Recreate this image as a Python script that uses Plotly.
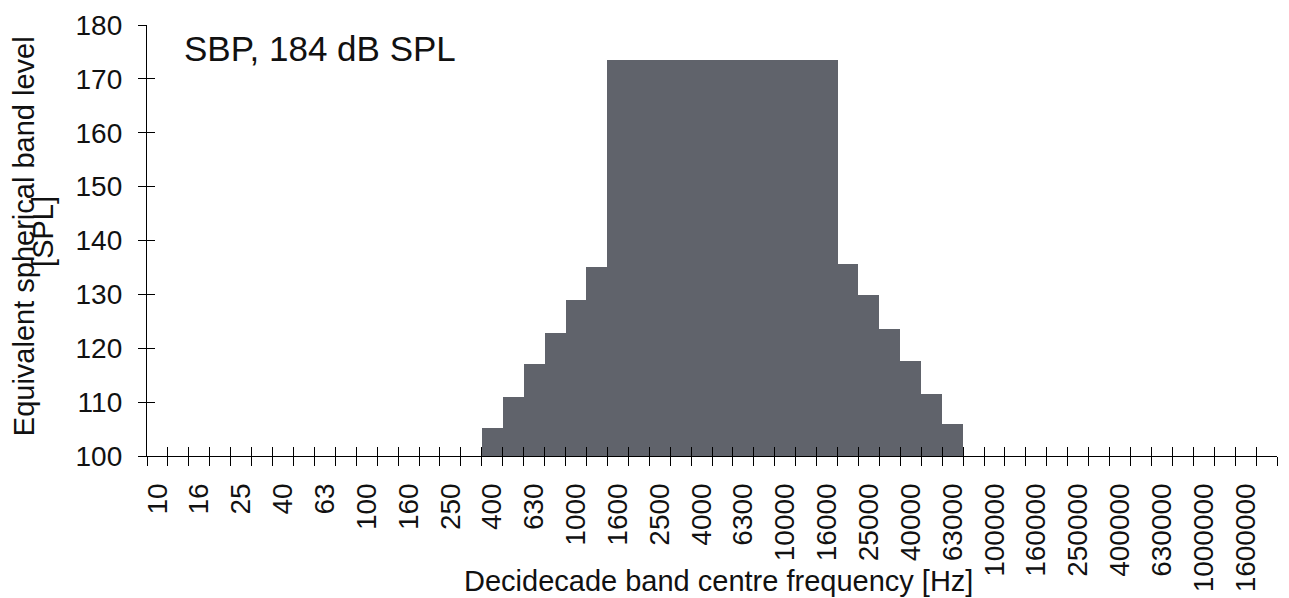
import plotly.graph_objects as go

# Decidecade band centre frequencies (Hz) - category axis
band_centres = ["10", "12.5", "16", "20", "25", "31.5", "40", "50", "63", "80",
                "100", "125", "160", "200", "250", "315", "400", "500", "630", "800",
                "1000", "1250", "1600", "2000", "2500", "3150", "4000", "5000", "6300", "8000",
                "10000", "12500", "16000", "20000", "25000", "31500", "40000", "50000", "63000", "80000",
                "100000", "125000", "160000", "200000", "250000", "315000", "400000", "500000", "630000", "800000",
                "1000000", "1250000", "1600000", "2000000"]

# Labelled ticks (every other band)
tick_labels = ["10", "16", "25", "40", "63", "100", "160", "250", "400", "630",
               "1000", "1600", "2500", "4000", "6300", "10000", "16000", "25000", "40000", "63000",
               "100000", "160000", "250000", "400000", "630000", "1000000", "1600000"]

# Bands with a level and their equivalent spherical band level (dB SPL)
spl_bands = ["400", "500", "630", "800", "1000", "1250",
             "1600", "2000", "2500", "3150", "4000", "5000", "6300", "8000", "10000", "12500", "16000",
             "20000", "25000", "31500", "40000", "50000", "63000"]
spl_levels = [105.2, 111.0, 117.0, 122.9, 128.9, 135.0,
              173.5, 173.5, 173.5, 173.5, 173.5, 173.5, 173.5, 173.5, 173.5, 173.5, 173.5,
              135.6, 129.9, 123.5, 117.7, 111.6, 105.9]

FONT = "Liberation Sans, Arial, sans-serif"
TXT = "#111111"
n_cat = len(band_centres)
xr = [-0.5, n_cat - 0.5]
yr = [100, 180]

fig = go.Figure()
fig.add_trace(go.Bar(x=spl_bands, y=spl_levels, width=1,
                     marker=dict(color="#60636b", line=dict(width=0)),
                     showlegend=False, hoverinfo="x+y"))
# empty helper traces so that the overlaid tick-only axes get drawn
fig.add_trace(go.Scatter(x=[], y=[], xaxis="x2", yaxis="y", showlegend=False, hoverinfo="skip"))
fig.add_trace(go.Scatter(x=[], y=[], xaxis="x3", yaxis="y", showlegend=False, hoverinfo="skip"))
fig.add_trace(go.Scatter(x=[], y=[], xaxis="x", yaxis="y2", showlegend=False, hoverinfo="skip"))

tick_common = dict(showgrid=False, zeroline=False, showticklabels=False, showline=False,
                   tickcolor="#000000", tickwidth=1.3, automargin=False, type="linear")

# page body has an 8px margin, so the figure is sized to fit inside the window
fig.update_layout(
    width=1281, height=590,
    margin=dict(l=139, r=12, t=17, b=142, autoexpand=False),
    paper_bgcolor="white", plot_bgcolor="white",
    bargap=0,
    font=dict(family=FONT, color=TXT, size=28),
    xaxis=dict(type="category", categoryorder="array", categoryarray=band_centres,
               range=xr, tickmode="array", tickvals=tick_labels, ticktext=tick_labels,
               tickangle=-90, ticks="", showline=True, linecolor="#000000", linewidth=1.3,
               showgrid=False, zeroline=False, ticklabelstandoff=15, automargin=False,
               tickfont=dict(family=FONT, size=28, color=TXT)),
    xaxis2=dict(overlaying="x", anchor="y", side="bottom", range=xr, tickmode="linear",
                tick0=-0.5, dtick=1, ticks="inside", ticklen=9, **tick_common),
    xaxis3=dict(overlaying="x", anchor="y", side="bottom", range=xr, tickmode="linear",
                tick0=-0.5, dtick=1, ticks="outside", ticklen=9, **tick_common),
    yaxis=dict(range=yr, tickmode="linear", tick0=100, dtick=10, ticks="outside", ticklen=8,
               tickcolor="#000000", tickwidth=1.3, showline=True, linecolor="#000000",
               linewidth=1.3, showgrid=False, zeroline=False, ticklabelstandoff=10,
               automargin=False, tickfont=dict(family=FONT, size=28, color=TXT)),
    yaxis2=dict(overlaying="y", anchor="x", side="left", range=yr, tickmode="linear",
                tick0=100, dtick=10, ticks="inside", ticklen=8, **tick_common),
    annotations=[
        dict(text="SBP, 184 dB SPL", xref="paper", yref="paper", x=0.031, y=0.946,
             xanchor="left", yanchor="middle", showarrow=False,
             font=dict(family=FONT, size=35, color=TXT)),
        dict(text="Decidecade band centre frequency [Hz]", xref="paper", yref="paper",
             x=0.506, y=-0.29, xanchor="center", yanchor="middle", showarrow=False,
             font=dict(family=FONT, size=29, color=TXT)),
        dict(text="Equivalent spherical band level", xref="paper", yref="paper",
             x=0, y=0.51, xshift=-123, xanchor="center", yanchor="middle", textangle=-90,
             showarrow=False, font=dict(family=FONT, size=29, color=TXT)),
        dict(text="[SPL]", xref="paper", yref="paper",
             x=0, y=0.52, xshift=-104, xanchor="center", yanchor="middle", textangle=-90,
             showarrow=False, font=dict(family=FONT, size=29, color=TXT)),
    ],
)

fig.write_html("out.html")
